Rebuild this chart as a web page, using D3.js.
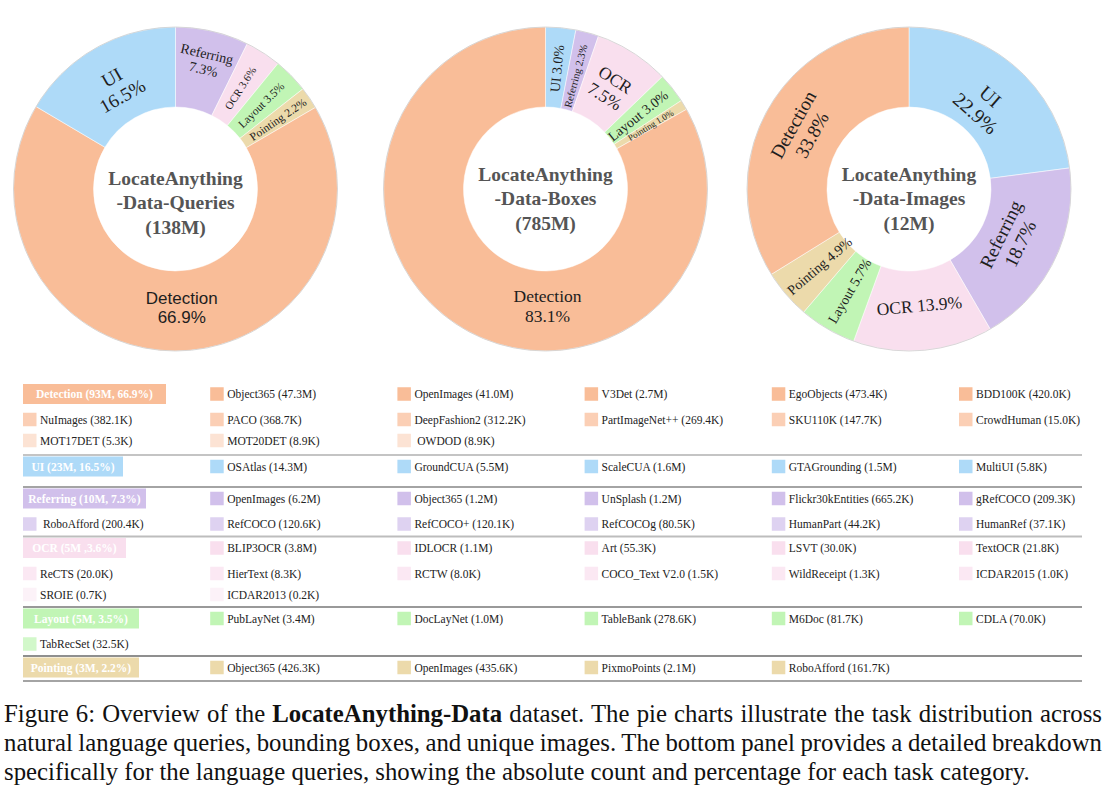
<!DOCTYPE html>
<html><head><meta charset="utf-8">
<script src="https://cdn.jsdelivr.net/npm/d3@7/dist/d3.min.js"></script>
<style>body{margin:0;background:#fff}svg{display:block}text{white-space:pre}</style>
</head><body><svg id="c" width="1107" height="803"></svg>
<script>
// ---------------- DATA ----------------
const tasks = ["Detection","UI","Referring","OCR","Layout","Pointing"];
const taskColors = ["#f9bd98","#aedaf8","#d1c0eb","#f9dfee","#c1f5b5","#ecdaab"];

// donut slices, listed clockwise from 12 o'clock
const queriesOrder = ["Referring","OCR","Layout","Pointing","Detection","UI"];
const queriesPct   = [7.3, 3.6, 3.5, 2.2, 66.9, 16.5];
const boxesOrder   = ["UI","Referring","OCR","Layout","Pointing","Detection"];
const boxesPct     = [3.0, 2.3, 7.5, 3.0, 1.0, 83.1];
const imagesOrder  = ["UI","Referring","OCR","Layout","Pointing","Detection"];
const imagesPct    = [22.9, 18.7, 13.9, 5.7, 4.9, 33.8];
const centerTitles = [
  ["LocateAnything","-Data-Queries","(138M)"],
  ["LocateAnything","-Data-Boxes","(785M)"],
  ["LocateAnything","-Data-Images","(12M)"]
];

// bottom panel
const groupHeaders = ["Detection (93M, 66.9%)","UI (23M, 16.5%)","Referring (10M, 7.3%)","OCR (5M ,3.6%)","Layout (5M, 3.5%)","Pointing (3M, 2.2%)"];
const detectionSets   = ["Object365","OpenImages","V3Det","EgoObjects","BDD100K","NuImages","PACO","DeepFashion2","PartImageNet++","SKU110K","CrowdHuman","MOT17DET","MOT20DET"," OWDOD"];
const detectionCounts = ["47.3M","41.0M","2.7M","473.4K","420.0K","382.1K","368.7K","312.2K","269.4K","147.7K","15.0K","5.3K","8.9K","8.9K"];
const uiSets          = ["OSAtlas","GroundCUA","ScaleCUA","GTAGrounding","MultiUI"];
const uiCounts        = ["14.3M","5.5M","1.6M","1.5M","5.8K"];
const referringSets   = ["OpenImages","Object365","UnSplash","Flickr30kEntities","gRefCOCO"," RoboAfford","RefCOCO","RefCOCO+","RefCOCOg","HumanPart","HumanRef"];
const referringCounts = ["6.2M","1.2M","1.2M","665.2K","209.3K","200.4K","120.6K","120.1K","80.5K","44.2K","37.1K"];
const ocrSets         = ["BLIP3OCR","IDLOCR","Art","LSVT","TextOCR","ReCTS","HierText","RCTW","COCO_Text V2.0","WildReceipt","ICDAR2015","SROIE","ICDAR2013"];
const ocrCounts       = ["3.8M","1.1M","55.3K","30.0K","21.8K","20.0K","8.3K","8.0K","1.5K","1.3K","1.0K","0.7K","0.2K"];
const layoutSets      = ["PubLayNet","DocLayNet","TableBank","M6Doc","CDLA","TabRecSet"];
const layoutCounts    = ["3.4M","1.0M","278.6K","81.7K","70.0K","32.5K"];
const pointingSets    = ["Object365","OpenImages","PixmoPoints","RoboAfford"];
const pointingCounts  = ["426.3K","435.6K","2.1M","161.7K"];

const captionLines = [
  ["Figure 6: Overview of the ", "LocateAnything-Data", " dataset. The pie charts illustrate the task distribution across"],
  ["natural language queries, bounding boxes, and unique images. The bottom panel provides a detailed breakdown"],
  ["specifically for the language queries, showing the absolute count and percentage for each task category."]
];

// ---------------- STYLE ----------------
const SERIF = "'Liberation Serif','Times New Roman',serif";
const SANS = "'Liberation Sans',Arial,sans-serif";
const color = d3.scaleOrdinal().domain(tasks).range(taskColors);
const svg = d3.select("#c");

const donutStyles = [
  { cx:175.5, cy:189, titleY:-11, labels:[
    {mode:"tan", lines:2, size:14, r:131},
    {mode:"rad", lines:1, size:11},
    {mode:"rad", lines:1, size:11.5},
    {mode:"rad", lines:1, size:11.5, r:124},
    {mode:"none", lines:2, size:17, sans:true, r:119, ang:177},
    {mode:"tan", lines:2, size:19, r:118}]},
  { cx:545.5, cy:189, titleY:-15, labels:[
    {mode:"rad", lines:1, size:14, r:121},
    {mode:"rad", lines:1, size:10.5, r:117},
    {mode:"tan", lines:2, size:17.5},
    {mode:"rad", lines:1, size:14, r:118},
    {mode:"rad", lines:1, size:9, r:123},
    {mode:"none", lines:2, size:17.5, r:117, ang:179}]},
  { cx:909, cy:189, titleY:-15, labels:[
    {mode:"tan", lines:2, size:20, r:112},
    {mode:"tan", lines:2, size:19, r:113},
    {mode:"tan", lines:1, size:17.5, r:117},
    {mode:"rad", lines:1, size:14, r:118},
    {mode:"rad", lines:1, size:14, r:118},
    {mode:"tan", lines:2, size:19, r:122}]}
];
const R_IN = 82, R_OUT = 162;

function drawDonut(order, pct, title, st) {
  const g = svg.append("g").attr("transform", `translate(${st.cx},${st.cy})`);
  const data = order.map((n, i) => ({name: n, v: pct[i]}));
  const arcs = d3.pie().sort(null).value(d => d.v)(data);
  const arc = d3.arc().innerRadius(R_IN).outerRadius(R_OUT);
  g.selectAll("path.slice").data(arcs).join("path").attr("class","slice")
    .attr("d", arc).attr("fill", d => color(d.data.name))
    .attr("stroke", "#fff").attr("stroke-width", 0.5);
  g.append("circle").attr("r", R_OUT).attr("fill", "none").attr("stroke", "#cfcfcf").attr("stroke-width", 0.8);
  arcs.forEach((a, i) => {
    const ls = st.labels[i];
    const r = ls.r || 120;
    let [x, y] = d3.arc().innerRadius(r).outerRadius(r).centroid(a);
    if (ls.ang !== undefined) [x, y] = d3.pointRadial(ls.ang * Math.PI / 180, r);
    const deg = (a.startAngle + a.endAngle) / 2 * 180 / Math.PI;
    let rot = 0;
    if (ls.mode === "tan") rot = (deg > 90 && deg < 270) ? deg - 180 : deg;
    else if (ls.mode === "rad") rot = deg < 180 ? deg - 90 : deg + 90;
    const pctTxt = a.data.v.toFixed(1) + "%";
    const lines = ls.lines === 2 ? [a.data.name, pctTxt] : [a.data.name + " " + pctTxt];
    const t = g.append("text")
      .attr("transform", `translate(${x},${y}) rotate(${rot})`)
      .attr("text-anchor", "middle")
      .style("font-family", ls.sans ? SANS : SERIF)
      .style("font-size", ls.size + "px")
      .attr("fill", "#1e1e1e");
    const lh = ls.size * 1.13;
    lines.forEach((L, j) => t.append("tspan").attr("x", 0)
      .attr("y", (j - (lines.length - 1) / 2) * lh).attr("dy", "0.35em").text(L));
  });
  const ct = g.append("text").attr("text-anchor", "middle")
    .style("font-family", SERIF).style("font-size", "19.5px").style("font-weight", "bold")
    .attr("fill", "#555");
  title.forEach((L, j) => ct.append("tspan").attr("x", 0)
    .attr("y", st.titleY + j * 24.5).attr("dy", "0.35em").text(L));
}

drawDonut(queriesOrder, queriesPct, centerTitles[0], donutStyles[0]);
drawDonut(boxesOrder, boxesPct, centerTitles[1], donutStyles[1]);
drawDonut(imagesOrder, imagesPct, centerTitles[2], donutStyles[2]);

// ---------------- BOTTOM PANEL ----------------
const groups = [
  [detectionSets, detectionCounts], [uiSets, uiCounts], [referringSets, referringCounts],
  [ocrSets, ocrCounts], [layoutSets, layoutCounts], [pointingSets, pointingCounts]
];
const groupTop = [382.5, 455, 487, 536.5, 607, 656];
const bottomY = 681;
const lineStyles = [null, {c:"#8a8a8a", w:1.2}, {c:"#4a4a4a", w:1.2}, {c:"#bdbdbd", w:2}, {c:"#777", w:1.3}, {c:"#6a6a6a", w:1.5}];
const headerW = [143, 100, 123, 103, 116, 116];
const col = d3.scaleLinear().domain([0, 5]).range([23, 959]);
const rowOffset = [0, 25.5, 46.5];
const shade = [0, 0.28, 0.58];
const SW = 13.5;

const panel = svg.append("g");
groups.forEach(([names, counts], gi) => {
  const top = groupTop[gi];
  const c0 = taskColors[gi];
  const hc = top + 11.5;
  if (lineStyles[gi]) panel.append("line").attr("x1", 23).attr("x2", 1082)
    .attr("y1", top).attr("y2", top).attr("stroke", lineStyles[gi].c).attr("stroke-width", lineStyles[gi].w);
  panel.append("rect").attr("x", col(0)).attr("y", hc - 10).attr("width", headerW[gi]).attr("height", 20).attr("fill", c0);
  panel.append("text").attr("x", col(0) + headerW[gi] / 2).attr("y", hc).attr("dy", "0.35em")
    .attr("text-anchor", "middle").attr("fill", "#fff")
    .style("font-family", SERIF).style("font-weight", "bold").style("font-size", "11.5px")
    .text(groupHeaders[gi]);
  names.forEach((n, k) => {
    const slot = k + 1;
    const row = Math.floor(slot / 6), c = slot % 6;
    const cy = hc + rowOffset[row];
    const fill = d3.interpolateRgb(c0, "#ffffff")(shade[row]);
    panel.append("rect").attr("x", col(c)).attr("y", cy - SW / 2).attr("width", SW).attr("height", SW).attr("fill", fill);
    panel.append("text").attr("x", col(c) + 17).attr("y", cy).attr("dy", "0.35em")
      .attr("fill", "#222").style("font-family", SERIF).style("font-size", "11.5px")
      .text(n + " (" + counts[k] + ")");
  });
});
panel.append("line").attr("x1", 23).attr("x2", 1082).attr("y1", bottomY).attr("y2", bottomY)
  .attr("stroke", "#4a4a4a").attr("stroke-width", 1.2);

// ---------------- CAPTION ----------------
const capBase = [722, 751, 780];
const capTarget = [1098, 1098, 1026];
const capX = 4;
const probe = svg.append("text").style("font-family", SERIF).style("font-size", "22px").text(captionLines[2].join(""));
const capSize = 22 * capTarget[2] / probe.node().getComputedTextLength();
probe.remove();
captionLines.forEach((parts, i) => {
  const t = svg.append("text").attr("x", capX).attr("y", capBase[i])
    .style("font-family", SERIF).style("font-size", capSize + "px").attr("fill", "#111");
  parts.forEach((p, j) => t.append("tspan").style("font-weight", (i === 0 && j === 1) ? "bold" : "normal").text(p));
  if (i < 2) {
    const w = t.node().getComputedTextLength();
    const spaces = parts.join("").split(" ").length - 1;
    t.style("word-spacing", ((capTarget[i] - w) / spaces) + "px");
  }
});
</script></body></html>
